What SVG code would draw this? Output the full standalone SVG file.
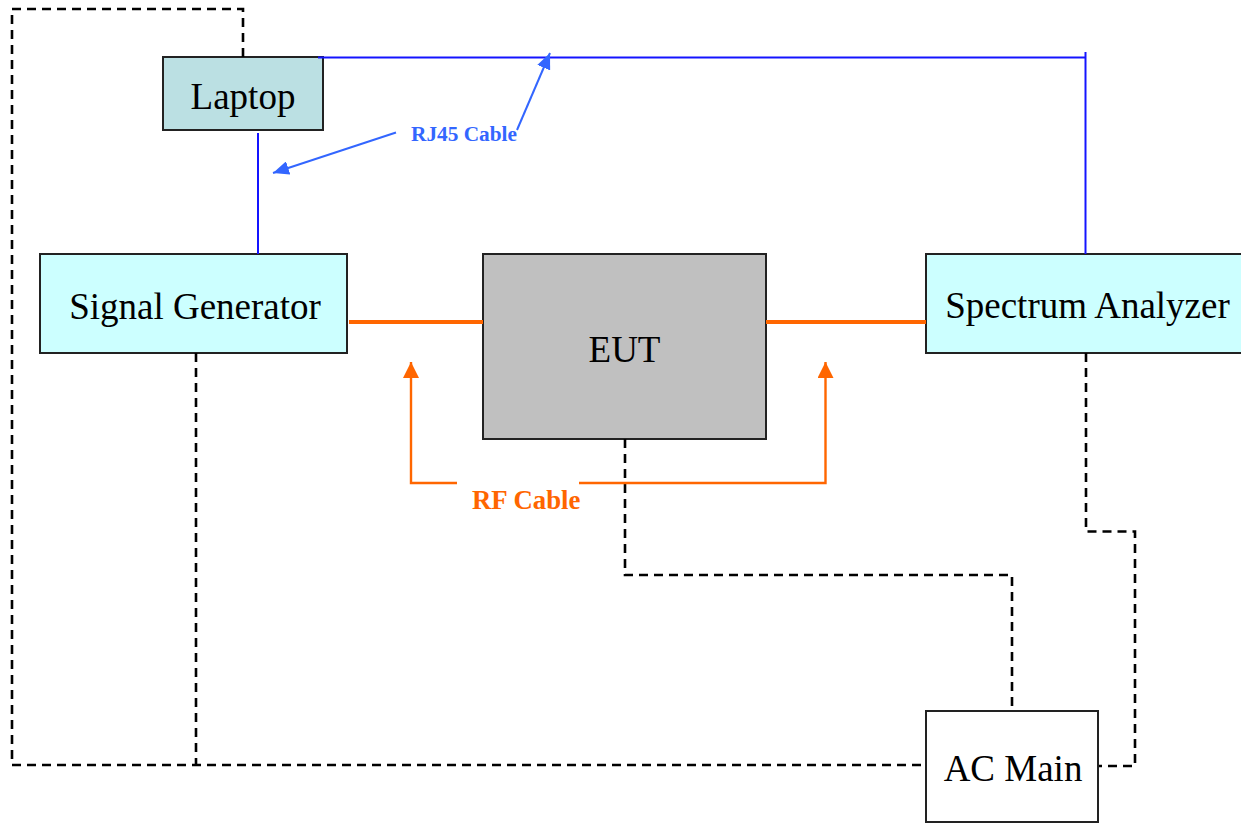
<svg xmlns="http://www.w3.org/2000/svg" width="1241" height="823" viewBox="0 0 1241 823">
  <style>
    .box { stroke: #222; stroke-width: 2; }
    .label { font-family: "Liberation Serif", "Times New Roman", serif; font-size: 37px; fill: #000; text-anchor: middle; }
    .power { fill: none; stroke: #000; stroke-width: 2.6; stroke-dasharray: 9 6; }
    .lan { fill: none; stroke: #1414ff; stroke-width: 2; }
    .rf { fill: none; stroke: #ff6600; stroke-width: 4; }
    .rf-note { fill: none; stroke: #ff6600; stroke-width: 2.4; }
    .lan-note { fill: none; stroke: #3366ff; stroke-width: 2; }
    .note { font-family: "Liberation Serif", "Times New Roman", serif; font-weight: bold; }
  </style>
  <defs>
    <marker id="arrow-blue" markerUnits="userSpaceOnUse" viewBox="0 0 16 14" refX="16" refY="7" markerWidth="16" markerHeight="14" orient="auto">
      <path d="M0,0 L16,7 L0,14 Z" fill="#3366ff"/>
    </marker>
    <marker id="arrow-orange" markerUnits="userSpaceOnUse" viewBox="0 0 16 16" refX="16" refY="8" markerWidth="16" markerHeight="16" orient="auto">
      <path d="M0,0 L16,8 L0,16 Z" fill="#ff6600"/>
    </marker>
  </defs>

  <rect width="1241" height="823" fill="#fff"/>

  <g id="laptop">
    <rect class="box" x="163" y="57" width="160" height="73" fill="#bbe0e3"/>
    <text class="label" x="243" y="109">Laptop</text>
  </g>

  <g id="signal-generator">
    <rect class="box" x="40" y="254" width="307" height="99" fill="#ccffff"/>
    <text class="label" x="195" y="319">Signal Generator</text>
  </g>

  <g id="eut">
    <rect class="box" x="483" y="254" width="283" height="185" fill="#c0c0c0"/>
    <text class="label" x="624.5" y="362">EUT</text>
  </g>

  <g id="spectrum-analyzer">
    <rect class="box" x="926" y="254" width="320" height="99" fill="#ccffff"/>
    <text class="label" x="1087.5" y="318">Spectrum Analyzer</text>
  </g>

  <g id="ac-main">
    <rect class="box" x="926" y="711" width="172" height="111" fill="#fff"/>
    <text class="label" x="1013" y="781">AC Main</text>
  </g>

  <g id="connectors">
    <!-- mains wiring (dashed) -->
    <path class="power" d="M243,57 V9 H12 V765 H925"/>
    <path class="power" d="M196,353 V765"/>
    <path class="power" d="M625,439 V575 H1012 V711"/>
    <path class="power" d="M1086,353 V531.5 H1135 V766 H1099"/>

    <!-- LAN links -->
    <path class="lan" d="M318,57.5 H1085.5"/>
    <path class="lan" d="M1085.5,52 V254"/>
    <path class="lan" d="M258,133 V254"/>

    <!-- RF links -->
    <path class="rf" d="M349,322 H483"/>
    <path class="rf" d="M766,322 H926"/>

    <!-- RJ45 callout -->
    <path class="lan-note" d="M396,132.5 L273,173" marker-end="url(#arrow-blue)"/>
    <path class="lan-note" d="M517,130 L550,53" marker-end="url(#arrow-blue)"/>
    <text class="note" x="411" y="140.5" font-size="21.3" fill="#3366ff">RJ45 Cable</text>

    <!-- RF callout -->
    <path class="rf-note" d="M457,483 H411 V362" marker-end="url(#arrow-orange)"/>
    <path class="rf-note" d="M579,483 H825.5 V362" marker-end="url(#arrow-orange)"/>
    <text class="note" x="472" y="508.5" font-size="26.8" fill="#ff6600">RF Cable</text>
  </g>
</svg>
